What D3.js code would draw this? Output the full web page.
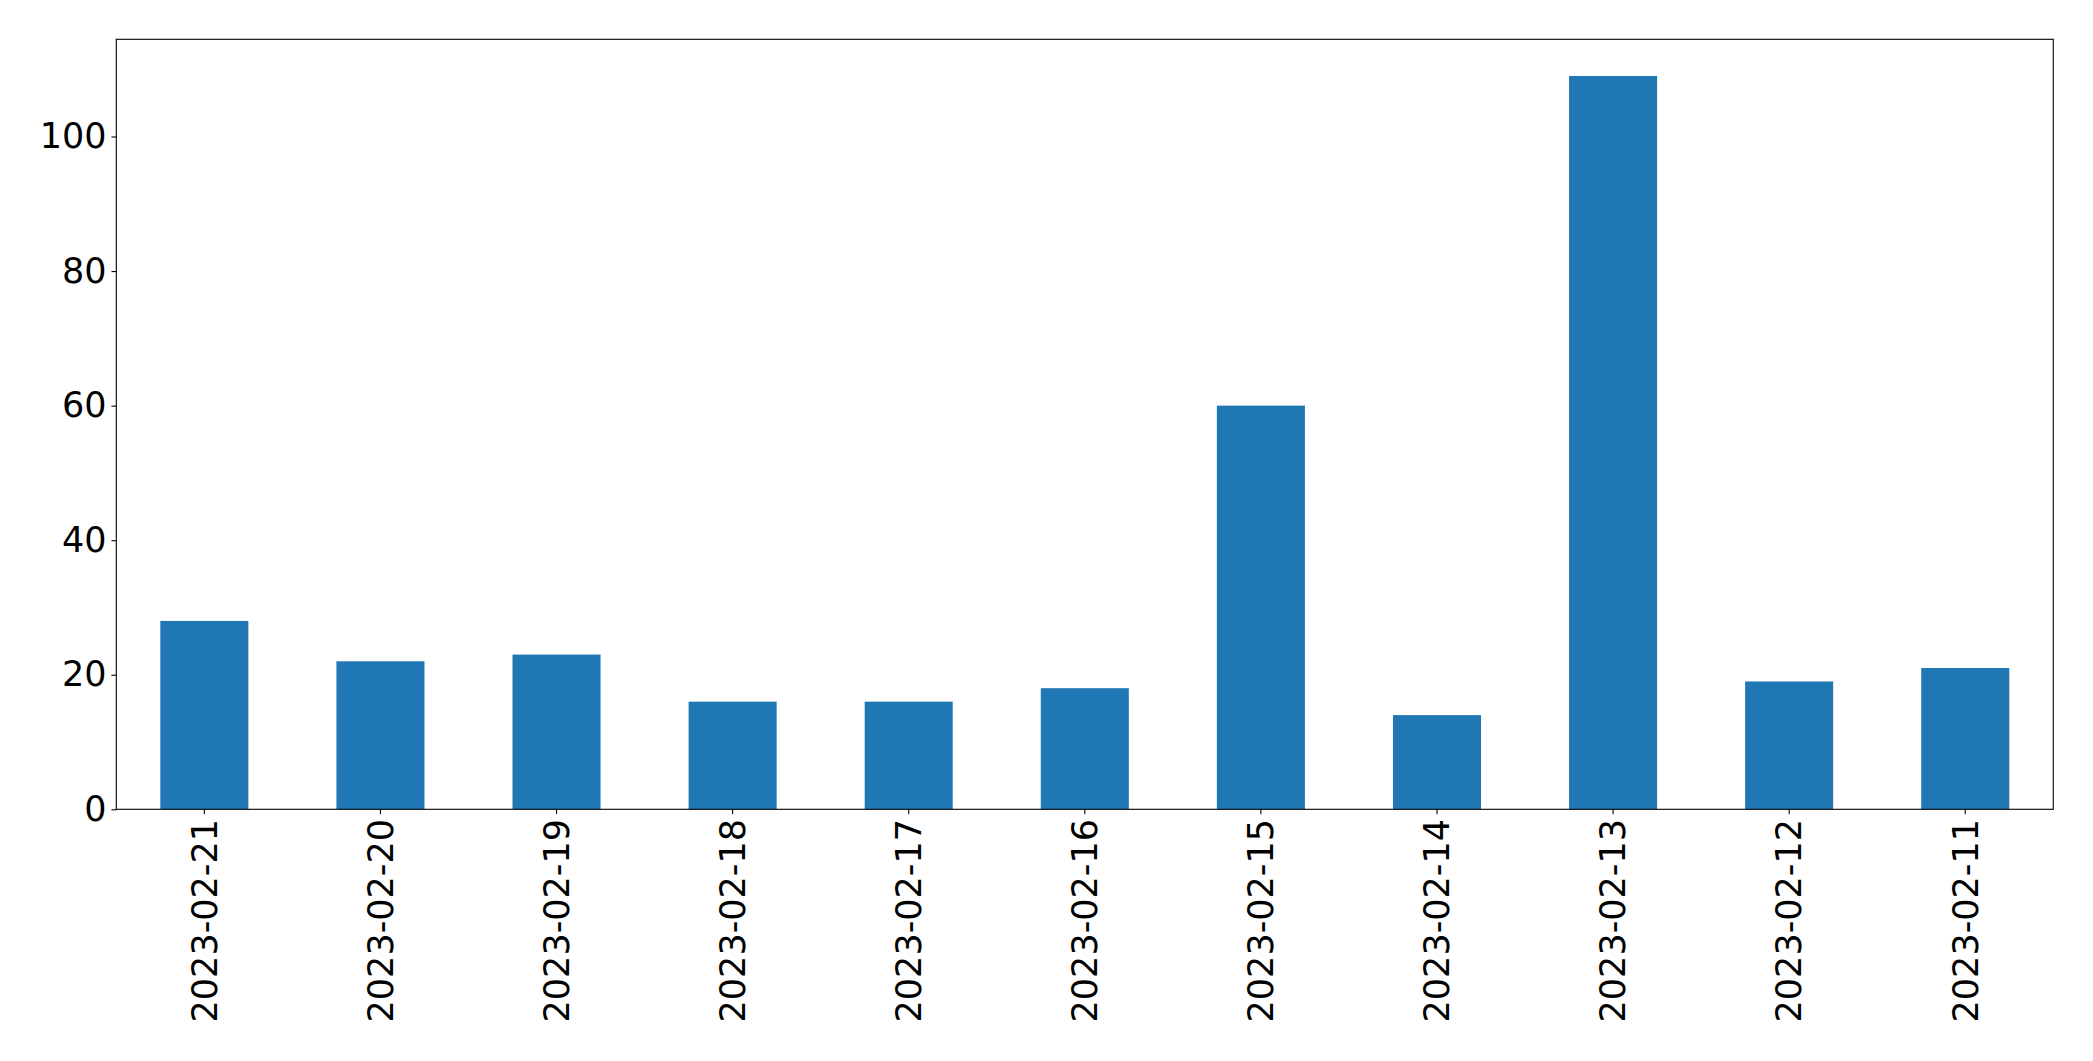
<!DOCTYPE html>
<html>
<head>
<meta charset="utf-8">
<script src="https://cdn.jsdelivr.net/npm/d3@7"></script>
<style>
  html, body { margin: 0; padding: 0; background: #fff; }
  svg { display: block; }
  text { font-family: "DejaVu Sans", sans-serif; }
</style>
</head>
<body>
<svg id="chart" width="2093" height="1061"></svg>
<script>
const categories = ["2023-02-21","2023-02-20","2023-02-19","2023-02-18","2023-02-17","2023-02-16","2023-02-15","2023-02-14","2023-02-13","2023-02-12","2023-02-11"];
const values = [28, 22, 23, 16, 16, 18, 60, 14, 109, 19, 21];
const yTicks = [0, 20, 40, 60, 80, 100];

const W = 2093, H = 1061;
const margin = { left: 116.3, top: 39.3, right: W - 2053.3, bottom: H - 809.3 };
const iw = W - margin.left - margin.right;
const ih = H - margin.top - margin.bottom;

const svg = d3.select("#chart");
const g = svg.append("g").attr("transform", `translate(${margin.left},${margin.top})`);

const x = d3.scaleBand().domain(categories).range([0, iw]).paddingInner(0.5).paddingOuter(0.25);
const yMax = d3.max(values) * 1.05;
const y = d3.scaleLinear().domain([0, yMax]).range([ih, 0]);

g.selectAll("rect.bar").data(values).join("rect")
  .attr("class", "bar")
  .attr("x", (d, i) => x(categories[i]))
  .attr("width", x.bandwidth())
  .attr("y", d => y(d))
  .attr("height", d => ih - y(d))
  .attr("fill", "#1f77b4");

const fs = 35;
const tickLen = 4.86;
const pad = 4.86;

const yAxis = g.append("g").call(d3.axisLeft(y).tickValues(yTicks).tickSize(tickLen).tickPadding(pad).tickFormat(d3.format("d")));
yAxis.select(".domain").remove();
yAxis.selectAll("line").attr("stroke", "#000").attr("stroke-width", 1.1);
yAxis.selectAll("text").attr("font-size", fs).attr("fill", "#000").attr("font-family", "DejaVu Sans");

const xAxis = g.append("g").attr("transform", `translate(0,${ih})`)
  .call(d3.axisBottom(x).tickSize(tickLen).tickPadding(pad));
xAxis.select(".domain").remove();
xAxis.selectAll("line").attr("stroke", "#000").attr("stroke-width", 1.1);
xAxis.selectAll("text")
  .attr("font-size", fs).attr("fill", "#000").attr("font-family", "DejaVu Sans")
  .attr("transform", "rotate(-90)")
  .attr("text-anchor", "end")
  .attr("dy", "0.35em")
  .attr("x", -(tickLen + pad))
  .attr("y", 0);

// frame
g.append("rect").attr("x", 0).attr("y", 0).attr("width", iw).attr("height", ih)
  .attr("fill", "none").attr("stroke", "#000").attr("stroke-width", 1.1);
</script>
</body>
</html>
